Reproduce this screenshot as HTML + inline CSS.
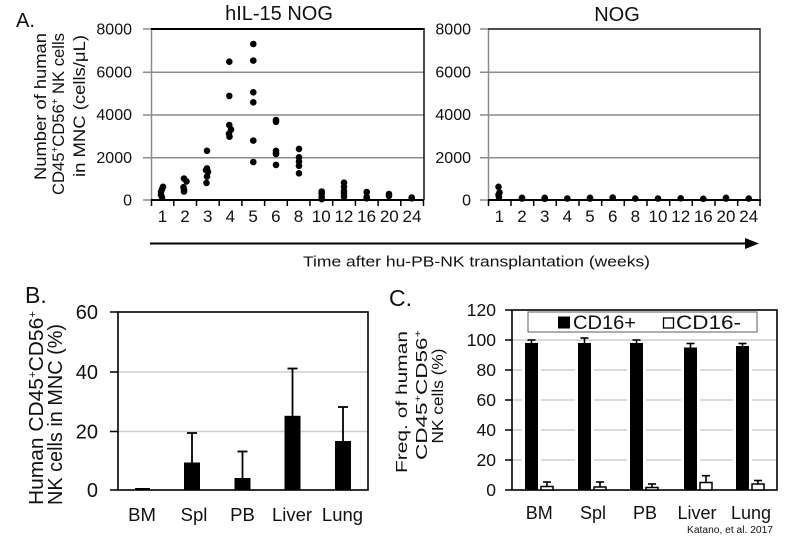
<!DOCTYPE html>
<html><head><meta charset="utf-8"><style>
html,body{margin:0;padding:0;background:#fff;}
svg{display:block;}
text{font-family:"Liberation Sans",Arial,sans-serif;fill:#111;}
</style></head><body>
<svg width="800" height="541" viewBox="0 0 800 541" xmlns="http://www.w3.org/2000/svg">
<rect x="0" y="0" width="800" height="541" fill="#fff"/>

<!-- ============ PANEL A ============ -->
<text x="16" y="27" font-size="20">A.</text>
<text x="279" y="20" font-size="20" text-anchor="middle">hIL-15 NOG</text>
<text x="617" y="21" font-size="20" text-anchor="middle">NOG</text>

<!-- Y title A -->
<text transform="translate(46,180) rotate(-90)" font-size="17" textLength="147" lengthAdjust="spacingAndGlyphs">Number of human</text>
<text transform="translate(64,195) rotate(-90)" font-size="17" textLength="162" lengthAdjust="spacingAndGlyphs">CD45<tspan dy="-6" font-size="10">+</tspan><tspan dy="6">CD56</tspan><tspan dy="-6" font-size="10">+</tspan><tspan dy="6"> NK cells</tspan></text>
<text transform="translate(85,177) rotate(-90)" font-size="17" textLength="142" lengthAdjust="spacingAndGlyphs">in MNC  (cells/μL)</text>

<!-- left plot grid -->
<g stroke="#8c8c8c" stroke-width="1.5">
<line x1="143" y1="72.25" x2="424" y2="72.25"/>
<line x1="143" y1="115" x2="424" y2="115"/>
<line x1="143" y1="157.75" x2="424" y2="157.75"/>
<line x1="143" y1="29" x2="151" y2="29"/>
<line x1="143" y1="200" x2="151" y2="200"/>
<line x1="151.5" y1="29" x2="151.5" y2="200"/>
</g>
<line x1="151" y1="29" x2="424" y2="29" stroke="#000" stroke-width="2"/>
<line x1="424" y1="28" x2="424" y2="200" stroke="#111" stroke-width="1.5"/>
<line x1="151" y1="200" x2="424" y2="200" stroke="#000" stroke-width="2"/>
<g stroke="#000" stroke-width="1.5">
<line x1="151.5" y1="200" x2="151.5" y2="206"/>
<line x1="173.8" y1="200" x2="173.8" y2="206"/>
<line x1="196.5" y1="200" x2="196.5" y2="206"/>
<line x1="219.2" y1="200" x2="219.2" y2="206"/>
<line x1="241.9" y1="200" x2="241.9" y2="206"/>
<line x1="264.6" y1="200" x2="264.6" y2="206"/>
<line x1="287.3" y1="200" x2="287.3" y2="206"/>
<line x1="310" y1="200" x2="310" y2="206"/>
<line x1="332.7" y1="200" x2="332.7" y2="206"/>
<line x1="355.4" y1="200" x2="355.4" y2="206"/>
<line x1="378.1" y1="200" x2="378.1" y2="206"/>
<line x1="400.8" y1="200" x2="400.8" y2="206"/>
<line x1="423.5" y1="200" x2="423.5" y2="206"/>
</g>
<g font-size="16" text-anchor="end">
<text x="132" y="34.5">8000</text>
<text x="132" y="77.5">6000</text>
<text x="132" y="120">4000</text>
<text x="132" y="163">2000</text>
<text x="132" y="205.5">0</text>
</g>
<g font-size="17" text-anchor="middle">
<text x="162.5" y="222">1</text>
<text x="185" y="222">2</text>
<text x="207.7" y="222">3</text>
<text x="230.4" y="222">4</text>
<text x="253.1" y="222">5</text>
<text x="275.8" y="222">6</text>
<text x="298.5" y="222">8</text>
<text x="321.2" y="222">10</text>
<text x="343.9" y="222">12</text>
<text x="366.6" y="222">16</text>
<text x="389.3" y="222">20</text>
<text x="412" y="222">24</text>
</g>
<!-- dots left -->
<g fill="#000">
<circle cx="163" cy="186.8" r="3.3"/><circle cx="162" cy="189.3" r="3.3"/><circle cx="161" cy="191.7" r="3.3"/><circle cx="161" cy="194.7" r="3.3"/><circle cx="162" cy="197.4" r="3.3"/>
<circle cx="184" cy="178.6" r="3.3"/><circle cx="186.5" cy="181.4" r="3.3"/><circle cx="183.5" cy="187.2" r="3.3"/><circle cx="184" cy="189.7" r="3.3"/><circle cx="184" cy="191.5" r="3.3"/>
<circle cx="207" cy="150.8" r="3.3"/><circle cx="207" cy="168.4" r="3.3"/><circle cx="206" cy="170.1" r="3.3"/><circle cx="208" cy="171.8" r="3.3"/><circle cx="207" cy="176.5" r="3.3"/><circle cx="206.5" cy="182.9" r="3.3"/>
<circle cx="229.3" cy="61.7" r="3.3"/><circle cx="229.3" cy="95.9" r="3.3"/><circle cx="229.3" cy="125" r="3.3"/><circle cx="231" cy="129.5" r="3.3"/><circle cx="229" cy="133.7" r="3.3"/><circle cx="229.5" cy="136.7" r="3.3"/>
<circle cx="253.3" cy="44" r="3.3"/><circle cx="253.3" cy="60.6" r="3.3"/><circle cx="253.3" cy="92.3" r="3.3"/><circle cx="253.3" cy="102.3" r="3.3"/><circle cx="253.3" cy="140.6" r="3.3"/><circle cx="253.3" cy="162" r="3.3"/>
<circle cx="276" cy="120.1" r="3.3"/><circle cx="276" cy="121.8" r="3.3"/><circle cx="276" cy="150.8" r="3.3"/><circle cx="276" cy="153" r="3.3"/><circle cx="276" cy="154" r="3.3"/><circle cx="276" cy="164.9" r="3.3"/>
<circle cx="299" cy="148.9" r="3.3"/><circle cx="299" cy="157.3" r="3.3"/><circle cx="299" cy="161.5" r="3.3"/><circle cx="299" cy="165.8" r="3.3"/><circle cx="299" cy="173.3" r="3.3"/>
<circle cx="321.7" cy="191.5" r="3.3"/><circle cx="321.7" cy="193.6" r="3.3"/><circle cx="321.7" cy="196.8" r="3.3"/><circle cx="321.7" cy="199.2" r="3.3"/>
<circle cx="344" cy="182.7" r="3.3"/><circle cx="344" cy="186.8" r="3.3"/><circle cx="344" cy="190.8" r="3.3"/><circle cx="344" cy="193.6" r="3.3"/><circle cx="344" cy="196.8" r="3.3"/>
<circle cx="366.7" cy="192.1" r="3.3"/><circle cx="366.7" cy="196.8" r="3.3"/><circle cx="366.7" cy="198.3" r="3.3"/>
<circle cx="389" cy="194" r="3.3"/><circle cx="389" cy="195.9" r="3.3"/>
<circle cx="411.7" cy="198.3" r="3.3"/><circle cx="411.7" cy="197.5" r="3.3"/>
</g>

<!-- right plot -->
<g stroke="#8c8c8c" stroke-width="1.5">
<line x1="480" y1="72.25" x2="760" y2="72.25"/>
<line x1="480" y1="115" x2="760" y2="115"/>
<line x1="480" y1="157.75" x2="760" y2="157.75"/>
<line x1="480" y1="29" x2="488" y2="29"/>
<line x1="480" y1="200" x2="488" y2="200"/>
<line x1="488.5" y1="29" x2="488.5" y2="200"/>
</g>
<line x1="488" y1="29" x2="760" y2="29" stroke="#333" stroke-width="1.8"/>
<line x1="760" y1="28" x2="760" y2="200" stroke="#333" stroke-width="1.5"/>
<line x1="488" y1="200" x2="761" y2="200" stroke="#000" stroke-width="2"/>
<g stroke="#000" stroke-width="1.5">
<line x1="488.5" y1="200" x2="488.5" y2="206"/>
<line x1="511" y1="200" x2="511" y2="206"/>
<line x1="533.7" y1="200" x2="533.7" y2="206"/>
<line x1="556.3" y1="200" x2="556.3" y2="206"/>
<line x1="579" y1="200" x2="579" y2="206"/>
<line x1="601.7" y1="200" x2="601.7" y2="206"/>
<line x1="624.3" y1="200" x2="624.3" y2="206"/>
<line x1="647" y1="200" x2="647" y2="206"/>
<line x1="669.7" y1="200" x2="669.7" y2="206"/>
<line x1="692.3" y1="200" x2="692.3" y2="206"/>
<line x1="715" y1="200" x2="715" y2="206"/>
<line x1="737.7" y1="200" x2="737.7" y2="206"/>
<line x1="760" y1="200" x2="760" y2="206"/>
</g>
<g font-size="16" text-anchor="end">
<text x="471" y="34.5">8000</text>
<text x="471" y="77.5">6000</text>
<text x="471" y="120">4000</text>
<text x="471" y="163">2000</text>
<text x="471" y="205.5">0</text>
</g>
<g font-size="17" text-anchor="middle">
<text x="499.3" y="222">1</text>
<text x="522" y="222">2</text>
<text x="544.7" y="222">3</text>
<text x="567.3" y="222">4</text>
<text x="590" y="222">5</text>
<text x="612.7" y="222">6</text>
<text x="635.3" y="222">8</text>
<text x="658" y="222">10</text>
<text x="680.7" y="222">12</text>
<text x="703.3" y="222">16</text>
<text x="726" y="222">20</text>
<text x="748.7" y="222">24</text>
</g>
<g fill="#000">
<circle cx="498.5" cy="186.8" r="3.3"/><circle cx="499.5" cy="192.5" r="3.3"/><circle cx="498.5" cy="194.7" r="3.3"/><circle cx="499" cy="197" r="3.3"/>
<circle cx="522" cy="197.8" r="3.3"/><circle cx="522" cy="198.5" r="3.3"/>
<circle cx="544.7" cy="197.8" r="3.3"/><circle cx="544.7" cy="198.8" r="3.3"/>
<circle cx="567.3" cy="198.5" r="3.3"/>
<circle cx="590" cy="197.8" r="3.3"/><circle cx="590" cy="198.6" r="3.3"/>
<circle cx="612.7" cy="197.6" r="3.3"/>
<circle cx="635.3" cy="198.5" r="3.3"/>
<circle cx="658" cy="198.5" r="3.3"/>
<circle cx="680.7" cy="198.3" r="3.3"/>
<circle cx="703.3" cy="198.8" r="3.3"/>
<circle cx="726" cy="197.8" r="3.3"/><circle cx="726" cy="198.6" r="3.3"/>
<circle cx="748.7" cy="198.5" r="3.3"/>
</g>

<!-- arrow -->
<line x1="150" y1="243.5" x2="748" y2="243.5" stroke="#000" stroke-width="2"/>
<polygon points="745,238 759,243.5 745,249" fill="#000"/>
<text x="303" y="266.5" font-size="15" textLength="347" lengthAdjust="spacingAndGlyphs">Time  after hu-PB-NK transplantation (weeks)</text>

<!-- ============ PANEL B ============ -->
<text x="25" y="303" font-size="23">B.</text>
<text transform="translate(43,505) rotate(-90)" font-size="20" textLength="194" lengthAdjust="spacingAndGlyphs">Human CD45<tspan dy="-7" font-size="11">+</tspan><tspan dy="7">CD56</tspan><tspan dy="-7" font-size="11">+</tspan></text>
<text transform="translate(62,505) rotate(-90)" font-size="20" textLength="181" lengthAdjust="spacingAndGlyphs">NK cells in MNC (%)</text>

<g stroke="#cfcfcf" stroke-width="1.5">
<line x1="118" y1="372" x2="368" y2="372"/>
<line x1="118" y1="431.5" x2="368" y2="431.5"/>
</g>
<g stroke="#000" stroke-width="1.5">
<line x1="110" y1="312" x2="118" y2="312"/>
<line x1="110" y1="372" x2="118" y2="372"/>
<line x1="110" y1="431.5" x2="118" y2="431.5"/>
<line x1="110" y1="490" x2="118" y2="490"/>
</g>
<rect x="118" y="312" width="250" height="178" fill="none" stroke="#000" stroke-width="1.6"/>
<g fill="#000">
<rect x="135" y="488" width="15" height="2"/>
<rect x="184" y="462.5" width="16" height="27.5"/>
<rect x="234.5" y="478" width="16" height="12"/>
<rect x="284.5" y="415.8" width="16" height="74.2"/>
<rect x="335" y="441" width="16" height="49"/>
</g>
<g stroke="#000" stroke-width="1.8">
<line x1="192" y1="462.5" x2="192" y2="433"/><line x1="187" y1="433" x2="197" y2="433"/>
<line x1="242.5" y1="478" x2="242.5" y2="451.5"/><line x1="237.5" y1="451.5" x2="247.5" y2="451.5"/>
<line x1="292.5" y1="416" x2="292.5" y2="368.5"/><line x1="287.5" y1="368.5" x2="297.5" y2="368.5"/>
<line x1="343" y1="441" x2="343" y2="407"/><line x1="338" y1="407" x2="348" y2="407"/>
</g>
<g font-size="20" text-anchor="end">
<text x="98" y="319">60</text>
<text x="98" y="379">40</text>
<text x="98" y="438.5">20</text>
<text x="98" y="497">0</text>
</g>
<g font-size="18.5" text-anchor="middle">
<text x="142" y="521">BM</text>
<text x="194" y="521">Spl</text>
<text x="242.5" y="521">PB</text>
<text x="292" y="521">Liver</text>
<text x="342.5" y="521">Lung</text>
</g>

<!-- ============ PANEL C ============ -->
<text x="389" y="306" font-size="23">C.</text>
<text x="0" y="0" transform="translate(407,402) rotate(-90)" font-size="16" text-anchor="middle" textLength="142" lengthAdjust="spacingAndGlyphs">Freq. of human</text>
<text x="0" y="0" transform="translate(427,395) rotate(-90)" font-size="16" text-anchor="middle" textLength="130" lengthAdjust="spacingAndGlyphs">CD45<tspan dy="-6" font-size="9">+</tspan><tspan dy="6">CD56</tspan><tspan dy="-6" font-size="9">+</tspan></text>
<text x="0" y="0" transform="translate(443,396) rotate(-90)" font-size="16" text-anchor="middle" textLength="95" lengthAdjust="spacingAndGlyphs">NK cells (%)</text>

<g stroke="#cfcfcf" stroke-width="1.5">
<line x1="512" y1="340" x2="777" y2="340"/>
<line x1="512" y1="370" x2="777" y2="370"/>
<line x1="512" y1="400" x2="777" y2="400"/>
<line x1="512" y1="430" x2="777" y2="430"/>
<line x1="512" y1="460" x2="777" y2="460"/>
</g>
<g stroke="#000" stroke-width="1.5">
<line x1="505" y1="310" x2="512" y2="310"/>
<line x1="505" y1="340" x2="512" y2="340"/>
<line x1="505" y1="370" x2="512" y2="370"/>
<line x1="505" y1="400" x2="512" y2="400"/>
<line x1="505" y1="430" x2="512" y2="430"/>
<line x1="505" y1="460" x2="512" y2="460"/>
<line x1="505" y1="490" x2="512" y2="490"/>
</g>
<!-- white halos behind black bars -->
<g fill="#fff">
<rect x="522" y="343" width="19" height="146"/>
<rect x="575" y="343" width="19" height="146"/>
<rect x="627" y="343" width="19" height="146"/>
<rect x="681" y="347.5" width="19" height="141"/>
<rect x="733" y="346" width="19" height="143"/>
</g>
<rect x="512" y="310" width="265" height="180" fill="none" stroke="#000" stroke-width="1.6"/>
<g fill="#000">
<rect x="525" y="343" width="13" height="147"/>
<rect x="578" y="343" width="13" height="147"/>
<rect x="630" y="343" width="13" height="147"/>
<rect x="684" y="347.5" width="13" height="142.5"/>
<rect x="736" y="346" width="13" height="144"/>
</g>
<g fill="#fff" stroke="#000" stroke-width="1.5">
<rect x="541" y="486.5" width="12" height="3.5"/>
<rect x="594" y="487" width="12" height="3"/>
<rect x="646" y="487.5" width="12" height="2.5"/>
<rect x="700" y="482.5" width="12" height="7.5"/>
<rect x="752" y="484" width="12" height="6"/>
</g>
<g stroke="#000" stroke-width="1.6">
<line x1="531.5" y1="343" x2="531.5" y2="340"/><line x1="527.5" y1="340" x2="535.5" y2="340"/>
<line x1="584.5" y1="343" x2="584.5" y2="338"/><line x1="580.5" y1="338" x2="588.5" y2="338"/>
<line x1="636.5" y1="343" x2="636.5" y2="340"/><line x1="632.5" y1="340" x2="640.5" y2="340"/>
<line x1="690.5" y1="347.5" x2="690.5" y2="343.5"/><line x1="686.5" y1="343.5" x2="694.5" y2="343.5"/>
<line x1="742.5" y1="346" x2="742.5" y2="343.5"/><line x1="738.5" y1="343.5" x2="746.5" y2="343.5"/>
<line x1="547" y1="486.5" x2="547" y2="482"/><line x1="543" y1="482" x2="551" y2="482"/>
<line x1="600" y1="487" x2="600" y2="482"/><line x1="596" y1="482" x2="604" y2="482"/>
<line x1="652" y1="487.5" x2="652" y2="484"/><line x1="648" y1="484" x2="656" y2="484"/>
<line x1="706" y1="482.5" x2="706" y2="475.7"/><line x1="702" y1="475.7" x2="710" y2="475.7"/>
<line x1="758" y1="484" x2="758" y2="480.5"/><line x1="754" y1="480.5" x2="762" y2="480.5"/>
</g>
<!-- legend -->
<rect x="528" y="312" width="229" height="20" fill="#fff" stroke="#777" stroke-width="1.2"/>
<rect x="558" y="316.5" width="12" height="12" fill="#000"/>
<text x="573" y="329" font-size="19" textLength="63" lengthAdjust="spacingAndGlyphs">CD16+</text>
<rect x="663.5" y="318" width="10" height="10" fill="none" stroke="#000" stroke-width="1.3"/>
<text x="676" y="329" font-size="19" textLength="65" lengthAdjust="spacingAndGlyphs">CD16-</text>

<g font-size="17.5" text-anchor="end">
<text x="496" y="316">120</text>
<text x="496" y="346">100</text>
<text x="496" y="376">80</text>
<text x="496" y="406">60</text>
<text x="496" y="436">40</text>
<text x="496" y="466">20</text>
<text x="496" y="496">0</text>
</g>
<g font-size="18" text-anchor="middle">
<text x="539.3" y="519">BM</text>
<text x="593" y="519">Spl</text>
<text x="645" y="519">PB</text>
<text x="697" y="519">Liver</text>
<text x="751" y="519">Lung</text>
</g>
<text x="687" y="533" font-size="10" textLength="86" lengthAdjust="spacingAndGlyphs">Katano, et al. 2017</text>
</svg>
</body></html>
